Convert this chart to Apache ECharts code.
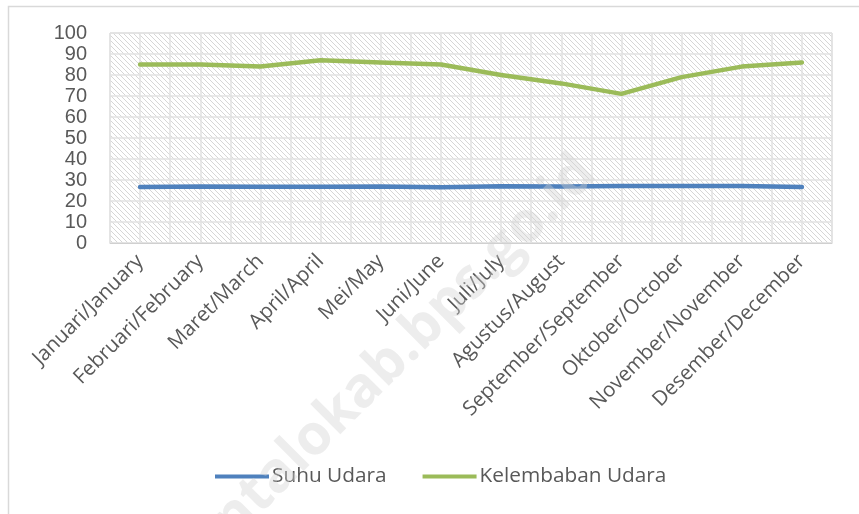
<!DOCTYPE html>
<html>
<head>
<meta charset="utf-8">
<script src="https://cdn.jsdelivr.net/npm/echarts@6/dist/echarts.min.js"></script>
<style>
  html, body { margin: 0; padding: 0; background: #fff; }
  #main { width: 859px; height: 514px; }
</style>
</head>
<body>
<div id="main"></div>
<script>
// 月份
var months = [
  'Januari/January', 'Februari/February', 'Maret/March', 'April/April',
  'Mei/May', 'Juni/June', 'Juli/July', 'Agustus/August',
  'September/September', 'Oktober/October', 'November/November', 'Desember/December'
];
// 温度
var suhuUdara = [26.7, 26.9, 26.8, 26.8, 26.9, 26.6, 27.0, 26.9, 27.2, 27.2, 27.1, 26.7];
// 湿度
var kelembabanUdara = [85, 85, 84, 87, 86, 85, 80, 76, 71, 79, 84, 86];
var yTicks = [0, 100, 10];

// 斜线底纹
function hatch() {
  var c = document.createElement('canvas');
  c.width = 5;
  c.height = 5;
  var ctx = c.getContext('2d');
  ctx.fillStyle = '#ffffff';
  ctx.fillRect(0, 0, 5, 5);
  ctx.fillStyle = '#d6d6d6';
  for (var i = 0; i < 5; i += 1) {
    ctx.fillRect(i, i, 1, 1);
  }
  return c;
}

var font = '"Liberation Sans", Arial, sans-serif';
var font2 = '"Open Sans", sans-serif';

var config = {
  animation: false,
  textStyle: { fontFamily: font },
  grid: {
    left: 110,
    right: 27,
    top: 33,
    bottom: 271,
    show: true,
    backgroundColor: { image: hatch(), repeat: 'repeat' },
    borderColor: '#d9d9d9',
    borderWidth: 1,
  },
  legend: {
    bottom: 22,
    left: 210,
    itemWidth: 54,
    itemHeight: 4,
    itemGap: 36,
    icon: 'rect',
    textStyle: { fontSize: 20.8, color: '#595959', fontFamily: font2, padding: [0, 0, 0, -2] },
    data: ['Suhu Udara', 'Kelembaban Udara'],
  },
  xAxis: [
    {
      type: 'category',
      data: months,
      boundaryGap: true,
      axisLine: { lineStyle: { color: '#d0d0d0' } },
      axisTick: { show: false },
      axisLabel: {
        rotate: 45,
        interval: 0,
        fontSize: 20.5,
        color: '#595959',
        margin: 15,
        fontFamily: font2,
      },
      splitLine: { show: false },
    },
    {
      // 次网格线
      type: 'value',
      position: 'top',
      min: 0,
      max: 24,
      interval: 1,
      axisLine: { show: false },
      axisTick: { show: false },
      axisLabel: { show: false },
      splitLine: { show: true, lineStyle: { color: '#e2e2e2', width: 1.5 } },
    },
  ],
  yAxis: {
    type: 'value',
    min: yTicks[0],
    max: yTicks[1],
    interval: yTicks[2],
    axisLine: { show: false },
    axisTick: { show: false },
    axisLabel: { fontSize: 20, color: '#595959', margin: 23, fontFamily: font },
    splitLine: { lineStyle: { color: '#e2e2e2', width: 1.5 } },
  },
  graphic: [
    {
      type: 'rect',
      left: 6,
      top: 4,
      shape: { width: 880, height: 560 },
      style: { fill: null, stroke: '#d9d9d9', lineWidth: 1.5 },
      silent: true,
      z: -10,
    },
    {
      type: 'text',
      x: 360,
      y: 392,
      rotation: Math.PI / 4,
      style: {
        text: 'gorontalokab.bps.go.id',
        font: 'bold 56px "Open Sans", sans-serif',
        fill: 'rgba(210,210,210,0.4)',
        align: 'center',
        verticalAlign: 'middle',
      },
      silent: true,
      z: 100,
    },
  ],
  series: [
    {
      name: 'Suhu Udara',
      type: 'line',
      data: suhuUdara,
      symbol: 'none',
      lineStyle: { width: 4.5, color: '#4f81bd', cap: 'round' },
      itemStyle: { color: '#4f81bd' },
    },
    {
      name: 'Kelembaban Udara',
      type: 'line',
      data: kelembabanUdara,
      symbol: 'none',
      lineStyle: { width: 4.5, color: '#9bbb59', cap: 'round' },
      itemStyle: { color: '#9bbb59' },
    },
  ],
};

var myChart = echarts.init(document.getElementById('main'));
myChart.setOption(config);
</script>
</body>
</html>
